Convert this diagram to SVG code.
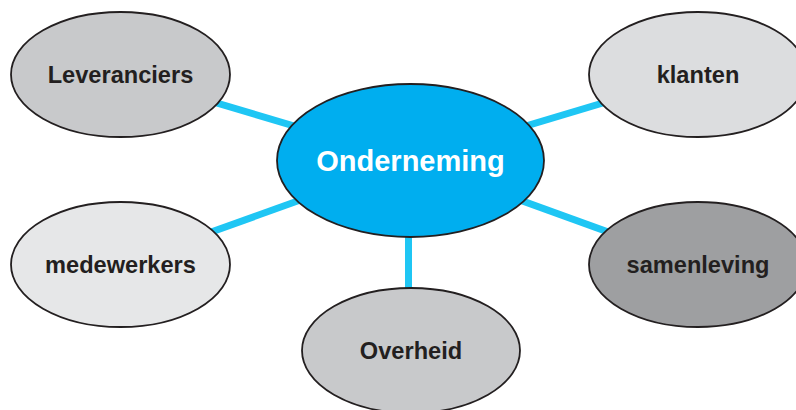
<svg xmlns="http://www.w3.org/2000/svg" width="796" height="410" viewBox="0 0 796 410">
  <style>
    .link { stroke: #1fc6f4; stroke-width: 7; stroke-linecap: butt; fill: none; }
    .node ellipse { stroke: #231f20; stroke-width: 1.8; }
    .node text { font-family: "Liberation Sans", Arial, sans-serif; font-weight: bold; font-size: 23.6px; fill: #231f20; text-anchor: middle; }
    #onderneming text { font-size: 29px; fill: #ffffff; }
  </style>
  <rect width="796" height="410" fill="#ffffff"/>

  <!-- spokes from the central node -->
  <g id="connectors">
    <line class="link" x1="120.5" y1="74.5" x2="410.5" y2="160.5"/>
    <line class="link" x1="698" y1="74.5" x2="410.5" y2="160.5"/>
    <line class="link" x1="120.5" y1="264.5" x2="410.5" y2="160.5"/>
    <line class="link" x1="698" y1="264.5" x2="410.5" y2="160.5"/>
    <line class="link" x1="408.5" y1="200" x2="408.5" y2="300"/>
  </g>

  <g id="leveranciers" class="node">
    <ellipse cx="120.5" cy="74.5" rx="109.5" ry="62.5" fill="#c8c9cb"/>
    <text x="120.5" y="83">Leveranciers</text>
  </g>

  <g id="klanten" class="node">
    <ellipse cx="698" cy="74.5" rx="109" ry="62.5" fill="#dcdddf"/>
    <text x="698" y="83">klanten</text>
  </g>

  <g id="medewerkers" class="node">
    <ellipse cx="120.5" cy="264.5" rx="109.5" ry="62.5" fill="#e6e7e8"/>
    <text x="120.5" y="273">medewerkers</text>
  </g>

  <g id="samenleving" class="node">
    <ellipse cx="698" cy="264.5" rx="109" ry="62.5" fill="#9e9fa1"/>
    <text x="698" y="273">samenleving</text>
  </g>

  <g id="overheid" class="node">
    <ellipse cx="411" cy="350.5" rx="109" ry="62.5" fill="#c8c9cb"/>
    <text x="411" y="359">Overheid</text>
  </g>

  <g id="onderneming" class="node">
    <ellipse cx="410.5" cy="160.5" rx="133.5" ry="76.5" fill="#00aeef"/>
    <text x="410.5" y="171">Onderneming</text>
  </g>
</svg>
